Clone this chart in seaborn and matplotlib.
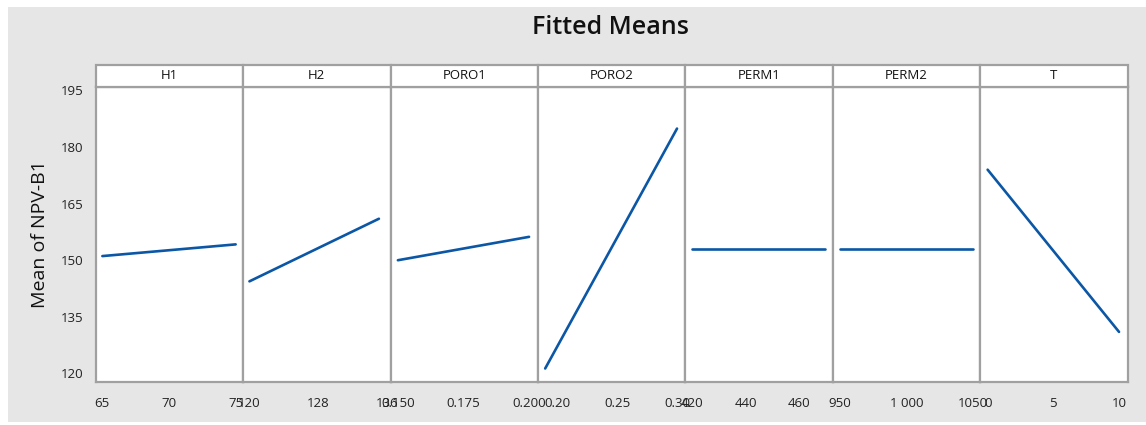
import matplotlib
matplotlib.use("Agg")
import matplotlib.pyplot as plt
from matplotlib.patches import Rectangle
import pandas as pd
import seaborn as sns

# Main-effect fitted means for NPV-B1, one panel per factor
factors = ["H1", "H2", "PORO1", "PORO2", "PERM1", "PERM2", "T"]
level_low = [65, 120, 0.150, 0.19, 420, 950, 0]
level_high = [75, 135, 0.200, 0.30, 470, 1050, 10]
mean_low = [151.1, 144.4, 150.0, 121.3, 153.1, 153.1, 174.0]
mean_high = [154.2, 161.0, 156.2, 184.9, 153.1, 153.1, 131.0]

x_ticks = [
    [65, 70, 75],
    [120, 128, 136],
    [0.150, 0.175, 0.200],
    [0.20, 0.25, 0.30],
    [420, 440, 460],
    [950, 1000, 1050],
    [0, 5, 10],
]
x_tick_labels = [
    ["65", "70", "75"],
    ["120", "128", "136"],
    ["0.150", "0.175", "0.200"],
    ["0.20", "0.25", "0.30"],
    ["420", "440", "460"],
    ["950", "1 000", "1050"],
    ["0", "5", "10"],
]
x_limits = [
    (64.5, 75.56),
    (119.27, 136.35),
    (0.1472, 0.2034),
    (0.184, 0.307),
    (417.4, 472.9),
    (944.5, 1055.7),
    (-0.56, 10.66),
]
y_ticks = [120, 135, 150, 165, 180, 195]

rows = []
for f, xl, xh, yl, yh in zip(factors, level_low, level_high, mean_low, mean_high):
    rows.append({"factor": f, "level": xl, "mean": yl})
    rows.append({"factor": f, "level": xh, "mean": yh})
df = pd.DataFrame(rows)

sns.set_style("white")
plt.rcParams["font.family"] = ["Open Sans", "DejaVu Sans"]

BG = "#e6e6e6"
SPINE = "#a0a0a0"
LINE = "#0b57a6"

fig, axes = plt.subplots(1, 7, figsize=(11.46, 4.25), dpi=100, sharey=True)
fig.patch.set_facecolor("white")
fig.patches.append(Rectangle((8 / 1146, 0.007), 1, 1 - 7 / 425 - 0.007,
                             transform=fig.transFigure, facecolor=BG,
                             edgecolor="none", zorder=-10))
fig.subplots_adjust(left=95.7 / 1146, right=1127.7 / 1146,
                    bottom=1 - 381.7 / 425, top=1 - 86.7 / 425, wspace=0)

strip_h = 21.7 / 295.0
for i, (ax, f) in enumerate(zip(axes, factors)):
    sub = df[df["factor"] == f]
    sns.lineplot(data=sub, x="level", y="mean", ax=ax, color=LINE,
                 linewidth=1.9, estimator=None, sort=True)
    ax.set_facecolor("white")
    ax.set_xlim(*x_limits[i])
    ax.set_ylim(117.8, 196.0)
    ax.set_xticks(x_ticks[i])
    ax.set_xticklabels(x_tick_labels[i])
    ax.set_xlabel("")
    ax.set_ylabel("")
    for s in ax.spines.values():
        s.set_color(SPINE)
        s.set_linewidth(1.6)
    ax.tick_params(axis="x", direction="out", length=7, width=1.4,
                   color=SPINE, labelsize=9.5, labelcolor="#222222", pad=4)
    if i == 0:
        ax.set_yticks(y_ticks)
        ax.tick_params(axis="y", direction="out", length=7, width=1.4,
                       color=SPINE, labelsize=9.5, labelcolor="#222222", pad=2)
    else:
        ax.tick_params(axis="y", left=False, labelleft=False)
    ax.add_patch(Rectangle((0, 1), 1, strip_h, transform=ax.transAxes,
                           facecolor="white", edgecolor=SPINE, linewidth=1.6,
                           clip_on=False, zorder=5))
    ax.text(0.5, 1 + strip_h / 2, f, transform=ax.transAxes, ha="center",
            va="center", fontsize=9.5, color="#111111", zorder=6)

axes[0].set_ylabel("Mean of NPV-B1", fontsize=14, color="#111111", labelpad=8)
fig.text(610 / 1146, 1 - 28 / 425, "Fitted Means", ha="center", va="center",
         fontsize=18, fontweight="semibold", color="#111111")

fig.savefig("out.png", dpi=100, facecolor=fig.get_facecolor())
